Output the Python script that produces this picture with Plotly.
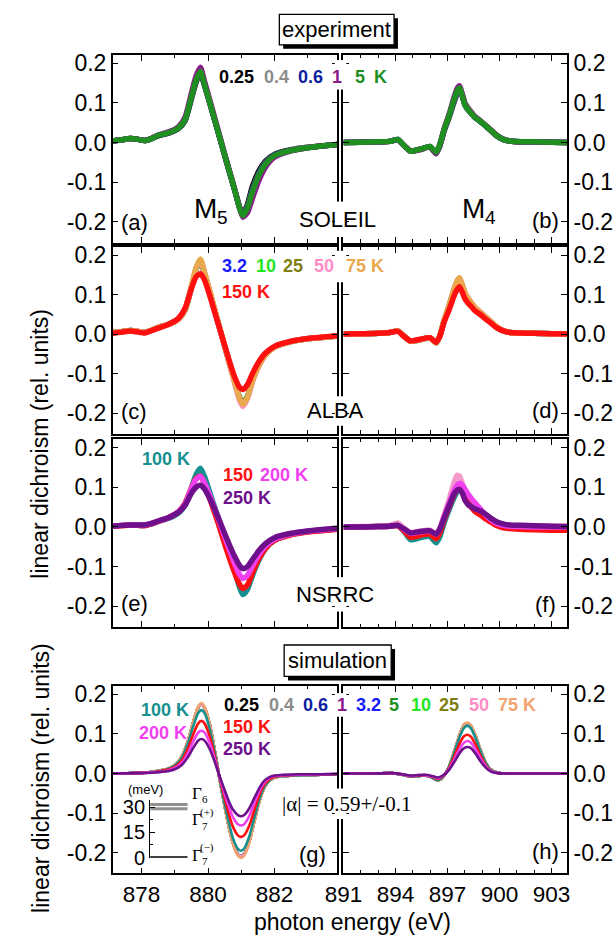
import plotly.graph_objects as go

W, H = 615, 946

# ---------------- data ----------------
E_L = [877.13, 877.4, 877.66, 877.9, 878.09, 878.3, 878.5, 878.82, 879.11, 879.31, 879.5, 879.64,
       879.77, 879.89, 880.05, 880.2, 880.35, 880.5, 880.65, 880.8, 880.95, 881.05, 881.19, 881.34,
       881.53, 881.73, 882.0, 882.5, 883.0, 883.5, 883.9]
E_R = [891.0, 892.0, 893.0, 893.67, 894.13, 894.5, 894.87, 895.2, 895.51, 895.98, 896.34, 896.55,
       896.8, 897.1, 897.36, 897.55, 897.69, 897.85, 898.0, 898.19, 898.4, 898.56, 898.9, 899.2,
       899.5, 899.8, 900.2, 900.6, 901.2, 902.0, 903.0, 903.9]

# SOLEIL (a, b)
sol_025_L = [0.004, 0.007, 0.010, 0.008, 0.005, 0.010, 0.017, 0.024, 0.035, 0.055, 0.110, 0.152, 0.176, 0.145, 0.100, 0.057, 0.013, -0.032, -0.076, -0.119, -0.162, -0.180, -0.155, -0.110, -0.072, -0.047, -0.030, -0.018, -0.012, -0.008, -0.005]
sol_04_L = [0.004, 0.007, 0.010, 0.008, 0.005, 0.010, 0.018, 0.025, 0.037, 0.058, 0.114, 0.155, 0.178, 0.147, 0.101, 0.057, 0.013, -0.031, -0.075, -0.118, -0.163, -0.182, -0.160, -0.118, -0.078, -0.050, -0.031, -0.019, -0.012, -0.008, -0.005]
sol_06_L = [0.004, 0.007, 0.010, 0.008, 0.005, 0.010, 0.018, 0.025, 0.037, 0.058, 0.115, 0.156, 0.179, 0.148, 0.102, 0.058, 0.014, -0.031, -0.075, -0.118, -0.164, -0.184, -0.163, -0.121, -0.080, -0.052, -0.032, -0.020, -0.013, -0.008, -0.005]
sol_1_L = [0.004, 0.007, 0.010, 0.008, 0.005, 0.011, 0.019, 0.027, 0.040, 0.064, 0.124, 0.168, 0.190, 0.156, 0.108, 0.063, 0.018, -0.028, -0.072, -0.116, -0.165, -0.188, -0.176, -0.140, -0.096, -0.062, -0.037, -0.021, -0.013, -0.008, -0.005]
sol_5_L = [0.004, 0.007, 0.010, 0.008, 0.005, 0.010, 0.018, 0.025, 0.037, 0.058, 0.115, 0.157, 0.180, 0.148, 0.102, 0.058, 0.014, -0.031, -0.075, -0.118, -0.165, -0.184, -0.165, -0.124, -0.083, -0.054, -0.033, -0.020, -0.013, -0.008, -0.005]

sol_025_R = [0.000, 0.001, 0.002, 0.003, 0.007, -0.008, -0.021, -0.019, -0.016, -0.011, -0.028, -0.009, 0.029, 0.065, 0.100, 0.122, 0.130, 0.118, 0.098, 0.085, 0.074, 0.065, 0.053, 0.042, 0.030, 0.018, 0.008, 0.004, 0.002, 0.002, 0.001, 0.000]
sol_04_R = [0.000, 0.001, 0.002, 0.003, 0.007, -0.008, -0.021, -0.019, -0.016, -0.011, -0.027, -0.008, 0.030, 0.066, 0.102, 0.124, 0.132, 0.120, 0.100, 0.088, 0.076, 0.067, 0.055, 0.043, 0.031, 0.019, 0.008, 0.004, 0.002, 0.002, 0.001, 0.000]
sol_06_R = [0.000, 0.001, 0.002, 0.003, 0.008, -0.008, -0.022, -0.019, -0.016, -0.010, -0.025, -0.006, 0.032, 0.069, 0.105, 0.128, 0.136, 0.117, 0.095, 0.082, 0.072, 0.064, 0.053, 0.042, 0.031, 0.019, 0.008, 0.004, 0.002, 0.002, 0.001, 0.000]
sol_1_R = [0.000, 0.001, 0.002, 0.003, 0.008, -0.008, -0.022, -0.020, -0.017, -0.011, -0.026, -0.006, 0.034, 0.073, 0.112, 0.136, 0.143, 0.122, 0.098, 0.084, 0.073, 0.065, 0.054, 0.043, 0.032, 0.020, 0.009, 0.004, 0.002, 0.002, 0.001, 0.000]
sol_5_R = [0.000, 0.001, 0.002, 0.003, 0.008, -0.008, -0.022, -0.019, -0.016, -0.010, -0.024, -0.005, 0.033, 0.070, 0.107, 0.130, 0.138, 0.118, 0.095, 0.082, 0.072, 0.064, 0.053, 0.042, 0.031, 0.019, 0.008, 0.004, 0.002, 0.002, 0.001, 0.000]

# ALBA (c, d)
alba_low_L = [0.004, 0.006, 0.009, 0.007, 0.004, 0.010, 0.017, 0.025, 0.038, 0.061, 0.119, 0.164, 0.186, 0.155, 0.108, 0.061, 0.015, -0.030, -0.075, -0.119, -0.161, -0.176, -0.158, -0.117, -0.079, -0.052, -0.033, -0.019, -0.012, -0.008, -0.005]
alba_50_L = [0.004, 0.006, 0.009, 0.007, 0.004, 0.010, 0.017, 0.025, 0.038, 0.061, 0.120, 0.166, 0.188, 0.157, 0.109, 0.061, 0.015, -0.031, -0.077, -0.123, -0.168, -0.183, -0.163, -0.120, -0.081, -0.053, -0.033, -0.019, -0.012, -0.008, -0.005]
alba_75_L = [0.004, 0.006, 0.009, 0.007, 0.004, 0.010, 0.017, 0.025, 0.038, 0.062, 0.122, 0.168, 0.190, 0.158, 0.110, 0.062, 0.016, -0.030, -0.075, -0.120, -0.163, -0.178, -0.160, -0.118, -0.080, -0.052, -0.033, -0.019, -0.012, -0.008, -0.005]
alba_150_L = [0.002, 0.005, 0.008, 0.005, 0.003, 0.009, 0.015, 0.025, 0.040, 0.066, 0.115, 0.145, 0.153, 0.138, 0.098, 0.056, 0.014, -0.028, -0.070, -0.108, -0.135, -0.140, -0.128, -0.100, -0.070, -0.048, -0.031, -0.018, -0.011, -0.007, -0.004]

alba_low_R = [0.000, 0.001, 0.002, 0.004, 0.008, -0.006, -0.018, -0.016, -0.013, -0.009, -0.022, -0.005, 0.034, 0.073, 0.110, 0.132, 0.140, 0.122, 0.103, 0.088, 0.076, 0.067, 0.054, 0.042, 0.031, 0.019, 0.009, 0.004, 0.003, 0.002, 0.001, 0.000]
alba_50_R = [0.000, 0.001, 0.002, 0.004, 0.008, -0.006, -0.018, -0.016, -0.013, -0.009, -0.022, -0.005, 0.034, 0.074, 0.111, 0.134, 0.142, 0.124, 0.105, 0.090, 0.078, 0.069, 0.056, 0.044, 0.032, 0.020, 0.009, 0.004, 0.003, 0.002, 0.001, 0.000]
alba_75_R = [0.000, 0.001, 0.002, 0.004, 0.008, -0.006, -0.018, -0.016, -0.013, -0.009, -0.022, -0.005, 0.035, 0.075, 0.112, 0.135, 0.143, 0.125, 0.105, 0.090, 0.078, 0.068, 0.055, 0.043, 0.032, 0.020, 0.009, 0.004, 0.003, 0.002, 0.001, 0.000]
alba_150_R = [0.000, 0.001, 0.002, 0.004, 0.007, -0.006, -0.017, -0.015, -0.012, -0.009, -0.021, -0.006, 0.030, 0.063, 0.095, 0.113, 0.120, 0.106, 0.090, 0.078, 0.068, 0.060, 0.049, 0.038, 0.028, 0.017, 0.008, 0.004, 0.003, 0.002, 0.001, 0.000]

# NSRRC (e, f)
ns_100_L = [0.002, 0.004, 0.005, 0.004, 0.004, 0.008, 0.014, 0.022, 0.035, 0.055, 0.098, 0.132, 0.148, 0.128, 0.088, 0.050, 0.012, -0.028, -0.068, -0.110, -0.152, -0.170, -0.157, -0.122, -0.084, -0.055, -0.034, -0.019, -0.012, -0.008, -0.005]
ns_150_L = [0.002, 0.003, 0.005, 0.004, 0.003, 0.008, 0.014, 0.024, 0.038, 0.060, 0.098, 0.122, 0.128, 0.110, 0.072, 0.036, -0.002, -0.042, -0.080, -0.115, -0.145, -0.155, -0.146, -0.115, -0.080, -0.054, -0.034, -0.020, -0.013, -0.009, -0.006]
ns_200_L = [0.002, 0.004, 0.005, 0.005, 0.005, 0.009, 0.015, 0.024, 0.038, 0.058, 0.097, 0.120, 0.127, 0.112, 0.080, 0.046, 0.012, -0.024, -0.058, -0.092, -0.120, -0.130, -0.122, -0.098, -0.070, -0.048, -0.031, -0.018, -0.011, -0.007, -0.004]
ns_250_L = [0.002, 0.004, 0.005, 0.005, 0.005, 0.009, 0.015, 0.024, 0.037, 0.055, 0.085, 0.100, 0.105, 0.096, 0.072, 0.045, 0.015, -0.016, -0.046, -0.074, -0.097, -0.105, -0.100, -0.082, -0.060, -0.042, -0.027, -0.016, -0.010, -0.006, -0.003]

ns_pink_R = [0.000, 0.001, 0.002, 0.004, 0.010, -0.004, -0.014, -0.012, -0.010, -0.008, -0.018, -0.004, 0.030, 0.070, 0.110, 0.130, 0.128, 0.110, 0.088, 0.070, 0.058, 0.050, 0.040, 0.030, 0.020, 0.012, 0.006, 0.004, 0.003, 0.003, 0.002, 0.002]
ns_100_R = [0.000, 0.000, 0.001, 0.002, 0.003, -0.012, -0.032, -0.030, -0.026, -0.024, -0.040, -0.025, 0.010, 0.045, 0.072, 0.088, 0.095, 0.096, 0.085, 0.070, 0.058, 0.050, 0.040, 0.030, 0.020, 0.012, 0.005, 0.002, 0.001, 0.000, 0.000, 0.000]
ns_150_R = [0.000, 0.000, 0.001, 0.002, 0.003, -0.010, -0.026, -0.024, -0.020, -0.018, -0.030, -0.015, 0.018, 0.052, 0.080, 0.096, 0.102, 0.098, 0.080, 0.060, 0.048, 0.040, 0.030, 0.020, 0.012, 0.004, -0.002, -0.004, -0.006, -0.007, -0.008, -0.008]
ns_200_R = [0.000, 0.000, 0.001, 0.002, 0.004, -0.006, -0.016, -0.014, -0.012, -0.010, -0.018, -0.005, 0.025, 0.060, 0.090, 0.105, 0.110, 0.106, 0.095, 0.082, 0.070, 0.062, 0.045, 0.030, 0.018, 0.010, 0.004, 0.002, 0.001, 0.000, 0.000, 0.000]
ns_250_R = [0.000, 0.000, 0.001, 0.002, 0.004, -0.005, -0.015, -0.013, -0.011, -0.010, -0.018, -0.006, 0.022, 0.055, 0.082, 0.093, 0.094, 0.085, 0.068, 0.056, 0.050, 0.046, 0.040, 0.032, 0.022, 0.014, 0.008, 0.005, 0.004, 0.003, 0.002, 0.001]

# simulation (g, h)
E_SL = [877.13, 877.8, 878.3, 878.7, 879.0, 879.2, 879.4, 879.55, 879.7, 879.8, 879.9, 880.05, 880.2,
        880.32, 880.45, 880.6, 880.75, 880.9, 881.0, 881.1, 881.25, 881.4, 881.55, 881.7, 881.85, 882.0,
        882.3, 882.8, 883.4, 883.9]
E_SR = [891.0, 892.5, 893.8, 894.4, 894.9, 895.3, 895.7, 896.1, 896.45, 896.8, 897.1, 897.4, 897.7,
        897.95, 898.15, 898.35, 898.6, 898.9, 899.2, 899.5, 899.9, 900.5, 901.5, 903.9]
sim_low_L = [0.000, 0.001, 0.004, 0.010, 0.021, 0.041, 0.083, 0.128, 0.166, 0.175, 0.166, 0.124, 0.059, 0.000, -0.059, -0.123, -0.175, -0.204, -0.209, -0.202, -0.170, -0.118, -0.069, -0.035, -0.018, -0.010, -0.006, -0.004, -0.003, -0.002]
sim_75_L = [0.000, 0.001, 0.004, 0.010, 0.022, 0.042, 0.085, 0.130, 0.168, 0.178, 0.168, 0.125, 0.060, 0.000, -0.060, -0.125, -0.178, -0.208, -0.213, -0.206, -0.173, -0.121, -0.071, -0.036, -0.018, -0.010, -0.006, -0.004, -0.003, -0.002]
sim_100_L = [0.000, 0.001, 0.004, 0.009, 0.020, 0.038, 0.077, 0.118, 0.152, 0.160, 0.152, 0.113, 0.054, 0.000, -0.055, -0.114, -0.163, -0.190, -0.195, -0.188, -0.157, -0.110, -0.064, -0.033, -0.017, -0.009, -0.006, -0.004, -0.003, -0.002]
sim_150_L = [0.000, 0.001, 0.003, 0.008, 0.017, 0.032, 0.064, 0.098, 0.126, 0.133, 0.126, 0.094, 0.045, 0.000, -0.045, -0.094, -0.134, -0.156, -0.160, -0.155, -0.130, -0.091, -0.053, -0.027, -0.014, -0.008, -0.005, -0.003, -0.002, -0.002]
sim_200_L = [0.000, 0.001, 0.003, 0.006, 0.014, 0.026, 0.052, 0.080, 0.103, 0.108, 0.103, 0.077, 0.037, 0.000, -0.037, -0.077, -0.110, -0.128, -0.131, -0.127, -0.106, -0.074, -0.043, -0.022, -0.011, -0.006, -0.004, -0.003, -0.002, -0.001]
sim_250_L = [0.000, 0.001, 0.002, 0.005, 0.011, 0.021, 0.042, 0.064, 0.083, 0.087, 0.083, 0.062, 0.030, 0.000, -0.030, -0.064, -0.091, -0.105, -0.108, -0.104, -0.087, -0.061, -0.036, -0.018, -0.009, -0.005, -0.003, -0.002, -0.002, -0.001]

sim_low_R = [0.000, 0.000, 0.001, -0.003, -0.008, -0.006, -0.005, -0.010, -0.018, -0.005, 0.019, 0.057, 0.098, 0.122, 0.127, 0.120, 0.096, 0.059, 0.027, 0.010, 0.002, 0.000, 0.000, 0.000]
sim_75_R = [0.000, 0.000, 0.001, -0.003, -0.008, -0.006, -0.005, -0.010, -0.018, -0.005, 0.020, 0.058, 0.100, 0.124, 0.129, 0.122, 0.098, 0.060, 0.028, 0.010, 0.002, 0.000, 0.000, 0.000]
sim_100_R = [0.000, 0.000, 0.001, -0.003, -0.008, -0.006, -0.005, -0.010, -0.017, -0.005, 0.018, 0.054, 0.093, 0.115, 0.121, 0.114, 0.091, 0.056, 0.026, 0.009, 0.002, 0.000, 0.000, 0.000]
sim_150_R = [0.000, 0.000, 0.001, -0.002, -0.007, -0.005, -0.004, -0.008, -0.014, -0.004, 0.015, 0.044, 0.076, 0.094, 0.098, 0.093, 0.074, 0.045, 0.021, 0.007, 0.001, 0.000, 0.000, 0.000]
sim_200_R = [0.000, 0.000, 0.001, -0.002, -0.006, -0.004, -0.004, -0.007, -0.012, -0.003, 0.012, 0.036, 0.063, 0.078, 0.082, 0.078, 0.062, 0.038, 0.018, 0.006, 0.001, 0.000, 0.000, 0.000]
sim_250_R = [0.000, 0.000, 0.001, -0.002, -0.005, -0.004, -0.003, -0.006, -0.010, -0.003, 0.010, 0.030, 0.052, 0.064, 0.067, 0.064, 0.051, 0.031, 0.015, 0.005, 0.001, 0.000, 0.000, 0.000]

# crystal-field level scheme (meV)
levels_meV = [0.0, 29.0, 31.5]
level_names = ["Γ7(−)", "Γ7(+)", "Γ6"]

y_ticks = [-0.2, -0.1, 0.0, 0.1, 0.2]
y_ticktext = ["-0.2", "-0.1", "0.0", "0.1", "0.2"]
xL_ticks = [878, 880, 882]
xR_ticks = [891, 894, 897, 900, 903]

# ---------------- colors ----------------
C = {
    "0.25": "#000000", "0.4": "#8c8c8c", "0.6": "#0d1f9e", "1": "#8b1a8b", "5": "#1f8f1f",
    "3.2": "#1a1aff", "10": "#22e622", "25": "#7f7f10", "50": "#ff8cc6", "75a": "#e9a94e",
    "75s": "#f4a26e", "150": "#ff1010", "100": "#168f8f", "200": "#f040f0", "250": "#6e0f8c",
    "pink": "#f49ac8",
}

FONT = "Liberation Sans, Arial, sans-serif"
SERIF = "Liberation Serif, Times New Roman, serif"

fig = go.Figure()


def px(x, y):
    return x / W, 1 - y / H


def add(xs, ys, k, color, width, name):
    fig.add_trace(go.Scatter(x=xs, y=ys, mode="lines", name=name, showlegend=False,
                             line=dict(color=color, width=width, shape="spline", smoothing=0.6),
                             xaxis="x" if k == 1 else f"x{k}", yaxis="y" if k == 1 else f"y{k}"))


EXP_W = 5.5
SIM_W = 2.6

# panel a, b
for (lab, yl, yr) in [("0.25", sol_025_L, sol_025_R), ("0.4", sol_04_L, sol_04_R),
                      ("0.6", sol_06_L, sol_06_R), ("1", sol_1_L, sol_1_R), ("5", sol_5_L, sol_5_R)]:
    add(E_L, yl, 1, C[lab], EXP_W, f"SOLEIL {lab} K")
    add(E_R, yr, 2, C[lab], EXP_W, f"SOLEIL {lab} K")

# panel c, d
for (lab, col, yl, yr) in [("3.2", C["3.2"], alba_low_L, alba_low_R), ("10", C["10"], alba_low_L, alba_low_R),
                           ("25", C["25"], alba_low_L, alba_low_R), ("50", C["50"], alba_50_L, alba_50_R),
                           ("75", C["75a"], alba_75_L, alba_75_R), ("150", C["150"], alba_150_L, alba_150_R)]:
    add(E_L, yl, 3, col, EXP_W, f"ALBA {lab} K")
    add(E_R, yr, 4, col, EXP_W, f"ALBA {lab} K")

# panel e, f
add(E_R, ns_pink_R, 6, C["pink"], EXP_W, "NSRRC 200 K (b)")
for (lab, yl, yr) in [("100", ns_100_L, ns_100_R), ("150", ns_150_L, ns_150_R),
                      ("200", ns_200_L, ns_200_R), ("250", ns_250_L, ns_250_R)]:
    add(E_L, yl, 5, C[lab], EXP_W, f"NSRRC {lab} K")
    add(E_R, yr, 6, C[lab], EXP_W, f"NSRRC {lab} K")

# panel g, h
for (lab, col) in [("0.25", C["0.25"]), ("0.4", C["0.4"]), ("0.6", C["0.6"]), ("1", C["1"]),
                   ("3.2", C["3.2"]), ("5", C["5"]), ("10", C["10"]), ("25", C["25"]), ("50", C["50"])]:
    add(E_SL, sim_low_L, 7, col, SIM_W, f"sim {lab} K")
    add(E_SR, sim_low_R, 8, col, SIM_W, f"sim {lab} K")
add(E_SL, sim_75_L, 7, C["75s"], SIM_W, "sim 75 K")
add(E_SR, sim_75_R, 8, C["75s"], SIM_W, "sim 75 K")
for (lab, yl, yr) in [("100", sim_100_L, sim_100_R), ("150", sim_150_L, sim_150_R),
                      ("200", sim_200_L, sim_200_R), ("250", sim_250_L, sim_250_R)]:
    add(E_SL, yl, 7, C[lab], SIM_W, f"sim {lab} K")
    add(E_SR, yr, 8, C[lab], SIM_W, f"sim {lab} K")

# inset level scheme
for lev, nm in zip(levels_meV, level_names):
    fig.add_trace(go.Scatter(x=[0, 1], y=[lev, lev], mode="lines", showlegend=False, name=nm,
                             line=dict(color="#000000" if lev == 0 else "#8f8f8f", width=3),
                             xaxis="x9", yaxis="y9"))

# ---------------- axes ----------------
XD = {1: [97.2 / W, 330.3 / W], 2: [336.5 / W, 568.5 / W]}
ROWS = {1: (50.7, 241.7), 2: (246, 436), 3: (441.7, 632.7), 4: (692.7, 883.3)}
XR = {1: [877.13, 883.9], 2: [890.995, 903.9]}
YR = [-0.252, 0.221]

lay = {}
for r in range(1, 5):
    for c in (1, 2):
        k = (r - 1) * 2 + c
        ks = "" if k == 1 else str(k)
        top, bot = ROWS[r]
        lay[f"xaxis{ks}"] = dict(
            domain=XD[c], range=XR[c], anchor=f"y{ks}", showline=True, linecolor="black", linewidth=1.5,
            mirror="ticks", ticks="inside", ticklen=6, tickwidth=1.2, tickcolor="black",
            tickvals=xL_ticks if c == 1 else xR_ticks, ticktext=[str(v) for v in (xL_ticks if c == 1 else xR_ticks)],
            showticklabels=(r == 4), tickfont=dict(family=FONT, size=22.5, color="black"),
            minor=dict(ticks="inside", ticklen=3.5, tickwidth=1.2, tickcolor="black", dtick=1,
                       tick0=878 if c == 1 else 891),
            showgrid=False, zeroline=False, fixedrange=True)
        lay[f"yaxis{ks}"] = dict(
            domain=[1 - bot / H, 1 - top / H], range=YR, anchor=f"x{ks}", showline=True, linecolor="black",
            linewidth=1.5, mirror="ticks", ticks="inside", ticklen=6, tickwidth=1.2, tickcolor="black",
            tickvals=y_ticks, ticktext=y_ticktext, side="left" if c == 1 else "right",
            tickfont=dict(family=FONT, size=23, color="black"), showgrid=False, zeroline=False, fixedrange=True)

lay["xaxis9"] = dict(domain=[136 / W, 175 / W], range=[0, 1], anchor="y9", visible=False, fixedrange=True)
lay["yaxis9"] = dict(domain=[1 - 867.3 / H, 1 - 809 / H], range=[0, 34], anchor="x9", showline=True,
                     linecolor="black", linewidth=1.2, ticks="inside", ticklen=5, tickcolor="black",
                     tickvals=[0, 15, 30], ticktext=["0", "15", "30"],
                     minor=dict(ticks="inside", ticklen=3, tickcolor="black", tickvals=[7.5, 22.5]),
                     tickfont=dict(family=FONT, size=20, color="black"), showgrid=False, zeroline=False,
                     fixedrange=True)

# ---------------- shapes ----------------
shapes = []
# white gaps in the broken-axis double lines
for (y0, y1) in [(56, 86), (200, 236), (250, 282), (398, 428), (582, 617), (700, 724), (797, 828)]:
    x0p, y0p = px(327.5, y0)
    x1p, y1p = px(339.5, y1)
    shapes.append(dict(type="rect", xref="paper", yref="paper", x0=x0p, x1=x1p, y0=y1p, y1=y0p,
                       fillcolor="white", line=dict(width=0), layer="above"))
# title boxes with shadow
for (bx0, by0, bx1, by1) in [(270, 9.5, 389, 40.5), (275, 651, 386, 683)]:
    a0, b0 = px(bx0 + 4, by0 + 4)
    a1, b1 = px(bx1 + 4, by1 + 4)
    shapes.append(dict(type="rect", xref="paper", yref="paper", x0=a0, x1=a1, y0=b1, y1=b0,
                       fillcolor="black", line=dict(width=0), layer="above"))
    a0, b0 = px(bx0, by0)
    a1, b1 = px(bx1, by1)
    shapes.append(dict(type="rect", xref="paper", yref="paper", x0=a0, x1=a1, y0=b1, y1=b0,
                       fillcolor="white", line=dict(color="black", width=1.3), layer="above"))

# ---------------- annotations ----------------
ann = []


def text(x, y, s, size=22, color="black", xanchor="center", family=FONT, bold=False, **kw):
    xp, yp = px(x, y)
    if bold:
        s = f"<b>{s}</b>"
    ann.append(dict(x=xp, y=yp, xref="paper", yref="paper", text=s, showarrow=False, xanchor=xanchor,
                    yanchor="middle", font=dict(family=family, size=size, color=color), **kw))


LB = 18
# legends
for (x, s, col) in [(205, "0.25", C["0.25"]), (252, "0.4", C["0.4"]), (287, "0.6", C["0.6"]),
                    (323, "1", C["1"]), (346, "5", C["5"]), (366, "K", C["5"])]:
    text(x, 73, s, LB, col, "left", bold=True)
for (x, s, col) in [(208, "3.2", C["3.2"]), (244, "10", C["10"]), (272, "25", C["25"]),
                    (304, "50", C["50"]), (337, "75 K", C["75a"])]:
    text(x, 265, s, LB, col, "left", bold=True)
text(208, 292, "150 K", LB, C["150"], "left", bold=True)
text(126, 462, "100 K", LB, C["100"], "left", bold=True)
text(209, 478, "150", LB, C["150"], "left", bold=True)
text(248, 478, "200 K", LB, C["200"], "left", bold=True)
text(209, 501, "250 K", LB, C["250"], "left", bold=True)
text(124, 717, "100 K", LB, C["100"], "left", bold=True)
text(122, 741, "200 K", LB, C["200"], "left", bold=True)
for (x, s, col) in [(211, "0.25", C["0.25"]), (257, "0.4", C["0.4"]), (292, "0.6", C["0.6"]),
                    (328, "1", C["1"]), (347, "3.2", C["3.2"]), (382, "5", C["5"]), (404, "10", C["10"]),
                    (434, "25", C["25"]), (465, "50", C["50"]), (495, "75 K", C["75s"])]:
    text(x, 712, s, LB, col, "left", bold=True)
text(210, 734, "150 K", LB, C["150"], "left", bold=True)
text(210, 757, "250 K", LB, C["250"], "left", bold=True)

# panel labels
for (x, y, s) in [(119.5, 221, "(a)"), (546, 219, "(b)"), (119.5, 414, "(c)"), (546, 412, "(d)"),
                  (119.5, 609, "(e)"), (546, 610, "(f)"), (304, 864, "(g)"), (546, 861, "(h)")]:
    text(x, y, s, 22)
# edge labels (main letter + subscript as separate texts)
text(179, 207, "M", 28, xanchor="left")
text(203, 216, "5", 19, xanchor="left")
text(457, 207, "M", 28, xanchor="left")
text(481, 216, "4", 19, xanchor="left")
text(330, 218, "SOLEIL", 22)
text(328, 412, "ALBA", 22)
text(328, 600, "NSRRC", 22)
text(329.5, 25, "experiment", 22)
text(330.5, 667, "simulation", 22)
text(340, 813, "|α| = 0.59+/-0.1", 21, family=SERIF)

# inset labels
text(131, 798, "(meV)", 13)
text(177, 802, "Γ", 17, xanchor="left", family=SERIF)
text(188, 808, "6", 11, xanchor="left", family=SERIF)
text(177, 829, "Γ", 17, xanchor="left", family=SERIF)
text(188, 835, "7", 11, xanchor="left", family=SERIF)
text(186, 821, "(+)", 11, xanchor="left", family=SERIF)
text(177, 865, "Γ", 17, xanchor="left", family=SERIF)
text(188, 871, "7", 11, xanchor="left", family=SERIF)
text(186, 857, "(−)", 11, xanchor="left", family=SERIF)

# axis titles
text(22, 446, "linear dichroism (rel. units)", 23, textangle=-90)
text(22, 786, "linear dichroism (rel. units)", 23, textangle=-90)
text(346, 933, "photon energy (eV)", 23)

fig.update_layout(width=W, height=H, margin=dict(l=0, r=0, t=0, b=0), paper_bgcolor="white",
                  plot_bgcolor="rgba(0,0,0,0)", showlegend=False, shapes=shapes, annotations=ann, **lay)

fig.write_html("out.html")
